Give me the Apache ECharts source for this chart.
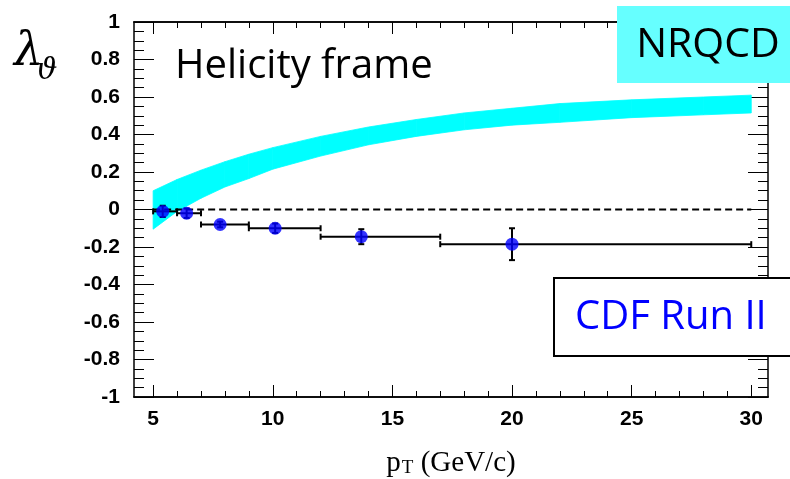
<!DOCTYPE html>
<html>
<head>
<meta charset="utf-8">
<script src="https://cdn.jsdelivr.net/npm/echarts@6/dist/echarts.min.js"></script>
<style>
html, body { margin: 0; padding: 0; background: #fff; }
#chart { width: 790px; height: 479px; }
</style>
</head>
<body>
<div id="chart"></div>
<script>
// CDF Run II points (pT bin centres, lambda_theta, bin edges, stat error)
var ptVals = [5.4, 6.4, 7.8, 10.1, 13.7, 20.0];
var lamVals = [-0.01, -0.02, -0.08, -0.10, -0.145, -0.185];
var binLo = [5, 6, 7, 9, 12, 17];
var binHi = [6, 7, 9, 12, 17, 30];
var errVals = [0.03, 0.025, 0.015, 0.025, 0.04, 0.085];

// NRQCD band
var bandPt = [5, 6, 7, 8, 9, 10, 12, 14, 16, 18, 20, 22, 25, 28, 30];
var bandUp = [0.10, 0.16, 0.21, 0.255, 0.295, 0.33, 0.39, 0.44, 0.48, 0.515, 0.54, 0.565, 0.585, 0.60, 0.61];
var bandLo = [-0.105, -0.01, 0.06, 0.12, 0.165, 0.215, 0.285, 0.345, 0.39, 0.425, 0.45, 0.465, 0.49, 0.505, 0.515];

var majorTicks = [5, 10, 15, 20, 25, 30];
var minorTicks = [];
for (var t = 5; t <= 30; t++) minorTicks.push(t);

document.addEventListener("DOMContentLoaded", function () {
    var chartDom = document.getElementById('chart');
    var myChart = echarts.init(chartDom, null, { renderer: 'canvas' });

    var frameLine = { show: true, onZero: false, lineStyle: { color: '#000', width: 1.5 } };

    function xAxisDef(pos, ticks, len, withLabels) {
        return {
            type: 'value',
            position: pos,
            min: 4.2,
            max: 30.7,
            axisLine: frameLine,
            splitLine: { show: false },
            axisTick: { show: true, inside: true, length: len, customValues: ticks,
                lineStyle: { color: '#000', width: 1 } },
            axisLabel: withLabels ? {
                show: true, customValues: majorTicks, margin: 12,
                fontFamily: 'Liberation Sans', fontWeight: 'bold', fontSize: 21, color: '#000'
            } : { show: false }
        };
    }

    function yAxisDef(pos, withLabels) {
        return {
            type: 'value',
            position: pos,
            min: -1,
            max: 1,
            interval: 0.2,
            axisLine: frameLine,
            splitLine: { show: false },
            axisTick: { show: true, inside: true, length: 20, lineStyle: { color: '#000', width: 1 } },
            minorTick: { show: true, splitNumber: 4, length: 10, lineStyle: { color: '#000', width: 1 } },
            axisLabel: withLabels ? {
                show: true, margin: 14,
                fontFamily: 'Liberation Sans', fontWeight: 'bold', fontSize: 21, color: '#000',
                formatter: function (v) { return String(parseFloat(v.toFixed(1))); }
            } : { show: false }
        };
    }

    var xb = xAxisDef('bottom', majorTicks, 12, true);
    xb.name = '{p|p}{s|T}{p| (GeV/c)}';
    xb.nameLocation = 'middle';
    xb.nameGap = 52;
    xb.nameTextStyle = {
        rich: {
            p: { fontFamily: 'Liberation Serif', fontSize: 29, color: '#000', verticalAlign: 'bottom' },
            s: { fontFamily: 'Liberation Serif', fontSize: 19, color: '#000', verticalAlign: 'bottom', padding: [0, 0, 0, 1] }
        }
    };

    var option = {
        animation: false,
        backgroundColor: '#fff',
        grid: { left: 134, right: 22, top: 22, bottom: 82, outerBoundsMode: 'none' },
        xAxis: [
            xb,
            xAxisDef('bottom', minorTicks, 6, false),
            xAxisDef('top', majorTicks, 12, false),
            xAxisDef('top', minorTicks, 6, false)
        ],
        yAxis: [yAxisDef('left', true), yAxisDef('right', false)],
        series: [
            {
                // NRQCD band: one filled quad between consecutive band points
                type: 'custom',
                z: 1,
                data: bandPt.map(function (x, i) { return [x, bandLo[i], bandUp[i]]; }),
                renderItem: function (params, api) {
                    var i = params.dataIndexInside;
                    if (i >= params.dataInsideLength - 1) return null;
                    var x0 = api.value(0, i), x1 = api.value(0, i + 1);
                    var pts = [
                        api.coord([x0, api.value(1, i)]),
                        api.coord([x1, api.value(1, i + 1)]),
                        api.coord([x1, api.value(2, i + 1)]),
                        api.coord([x0, api.value(2, i)])
                    ];
                    return {
                        type: 'polygon',
                        shape: { points: pts },
                        style: { fill: '#00ffff', stroke: '#00ffff', lineWidth: 0.8 }
                    };
                }
            },
            {
                type: 'line',
                symbol: 'none',
                lineStyle: { color: '#000', width: 2, type: [7, 4] },
                data: [[5, 0], [30, 0]],
                z: 2
            },
            {
                type: 'custom',
                z: 3,
                data: ptVals.map(function (x, i) {
                    return [x, lamVals[i], binLo[i], binHi[i], lamVals[i] - errVals[i], lamVals[i] + errVals[i]];
                }),
                renderItem: function (params, api) {
                    var y = api.value(1);
                    var pl = api.coord([api.value(2), y]);
                    var pr = api.coord([api.value(3), y]);
                    var pb = api.coord([api.value(0), api.value(4)]);
                    var pt = api.coord([api.value(0), api.value(5)]);
                    var st = { stroke: '#000', lineWidth: 2 };
                    return {
                        type: 'group',
                        children: [
                            { type: 'line', shape: { x1: pl[0], y1: pl[1], x2: pr[0], y2: pr[1] }, style: st },
                            { type: 'line', shape: { x1: pl[0], y1: pl[1] - 3, x2: pl[0], y2: pl[1] + 3 }, style: st },
                            { type: 'line', shape: { x1: pr[0], y1: pr[1] - 3, x2: pr[0], y2: pr[1] + 3 }, style: st },
                            { type: 'line', shape: { x1: pb[0], y1: pb[1], x2: pt[0], y2: pt[1] }, style: st },
                            { type: 'line', shape: { x1: pb[0] - 3, y1: pb[1], x2: pb[0] + 3, y2: pb[1] }, style: st },
                            { type: 'line', shape: { x1: pt[0] - 3, y1: pt[1], x2: pt[0] + 3, y2: pt[1] }, style: st }
                        ]
                    };
                }
            },
            {
                type: 'scatter',
                symbol: 'circle',
                symbolSize: 13,
                itemStyle: { color: '#0000ff' },
                data: ptVals.map(function (x, i) { return [x, lamVals[i]]; }),
                z: 4
            }
        ],
        graphic: [
            { type: 'text', left: 14, top: 30, style: { text: 'λ', font: 'italic 46px "DejaVu Serif"', fill: '#000' } },
            { type: 'text', left: 36, top: 56, style: { text: 'ϑ', font: 'italic 30px "DejaVu Serif"', fill: '#000' } },
            { type: 'text', left: 175, top: 47, style: { text: 'Helicity frame', font: '40px "Open Sans"', fill: '#000' } },
            { type: 'rect', shape: { x: 617, y: 6, width: 180, height: 77 }, style: { fill: '#66ffff' }, z: 10 },
            { type: 'text', x: 708, y: 45, z: 11, style: { text: 'NRQCD', font: '41px "Open Sans"', fill: '#000', align: 'center', verticalAlign: 'middle' } },
            { type: 'rect', shape: { x: 554, y: 278, width: 250, height: 78 }, style: { fill: '#fff', stroke: '#000', lineWidth: 2 }, z: 10 },
            { type: 'text', x: 575, y: 318, z: 11, style: { text: 'CDF Run II', font: '40px "Open Sans"', fill: '#0000ff', align: 'left', verticalAlign: 'middle' } }
        ]
    };

    myChart.setOption(option);
});
</script>
</body>
</html>
